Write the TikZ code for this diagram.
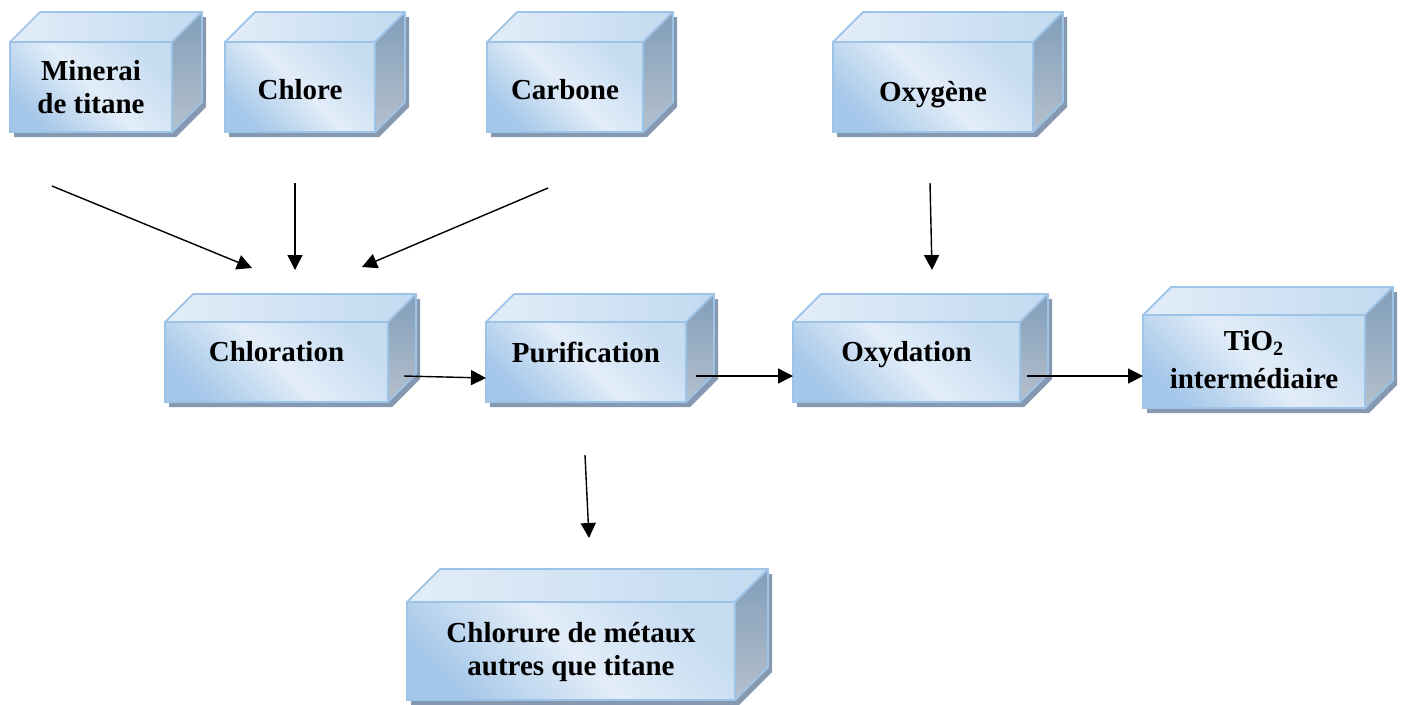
\documentclass[tikz,border=0pt]{standalone}
\usepackage{fontspec}
\setmainfont{Liberation Serif}
\usetikzlibrary{arrows.meta}

\definecolor{bordure}{HTML}{9DC3E6}
\definecolor{faceA}{HTML}{C6DCF1}
\definecolor{faceB}{HTML}{E2EDF8}
\definecolor{faceC}{HTML}{A5C7E9}
\definecolor{cote1}{HTML}{819EBB}
\definecolor{cote2}{HTML}{B5C0CC}
\definecolor{ombrec}{HTML}{8699B0}

\tikzset{
  face/.style={draw=bordure, line width=1pt, top color=faceA, bottom color=faceC,
    middle color=faceB, shading angle=-45, inner sep=0pt, outer sep=0pt},
  texte/.style={align=center, inner sep=0pt, font=\fontsize{16.5}{18.5}\selectfont\bfseries,
    execute at begin node=\strut, execute at end node=\strut},
  dessus/.style={draw=bordure, line width=1pt, line join=round, left color=faceB, right color=faceA!90!bordure},
  cote/.style={draw=bordure, line width=1pt, line join=round, top color=cote1, bottom color=cote2},
  ombre/.style={fill=ombrec},
  fleche/.style={-{Triangle[length=0.3cm,width=0.3cm]}, line width=0.8pt}
}

\begin{document}
\begin{tikzpicture}[x=0.02cm, y=-0.02cm]
	\def\px{0.02cm}
	\useasboundingbox (0,0) rectangle (1405,704);
	% blocs
	\foreach \nom/\x/\y/\w/\h/\dep/\ty/\txt in {
		minerai/10/42/162/90/30/5/{Minerai\\de titane},
		chlore/225/42/150/90/30/6/{Chlore},
		carbone/487/42/156/90/30/6/{Carbone},
		oxygene/833/42/200/90/30/8/{Oxygène},
		chloration/165/322/223/80/28/-7/{Chloration},
		purification/486/322/200/80/28/-6/{Purification},
		oxydation/793/322/227/80/28/-7/{Oxydation},
		tio/1143/315/222/93/28/3/{TiO\textsubscript{2}\\[3pt]intermédiaire},
		chlorure/407/602/328/98/33/3/{Chlorure de métaux\\autres que titane}} {
		\fill[ombre, shift={(4,5)}] (\x,\y) -- (\x+\dep,\y-\dep) -- (\x+\w+\dep,\y-\dep)
			-- (\x+\w+\dep,\y+\h-\dep) -- (\x+\w,\y+\h) -- (\x,\y+\h) -- cycle;
		\node[face, anchor=north west, minimum width=\w*\px, minimum height=\h*\px] (\nom) at (\x,\y) {};
		\draw[dessus] (\nom.north west) -- ++(\dep,-\dep) -- ++(\w,0) -- (\nom.north east) -- cycle;
		\draw[cote] (\nom.north east) -- ++(\dep,-\dep) -- ++(0,\h) -- (\nom.south east) -- cycle;
		\node[texte] (\nom-t) at ([shift={(0,\ty)}]\nom.center) {\txt};
	}
	% fleches
	\coordinate (m1) at (52,186);
	\coordinate (m2) at (252,268);
	\coordinate (c1) at (295,183);
	\coordinate (c2) at (295,270);
	\coordinate (k1) at (548,188);
	\coordinate (k2) at (362,267);
	\coordinate (o1) at (930,183);
	\coordinate (o2) at (932,270);
	\coordinate (s1) at (404,376);
	\coordinate (s2) at (486,378);
	\coordinate (s3) at (696,376);
	\coordinate (s4) at (793,376);
	\coordinate (s5) at (1027,376);
	\coordinate (s6) at (1143,376);
	\coordinate (p1) at (585,455);
	\coordinate (p2) at (589,538);
	\draw[fleche] (m1) -- (m2);
	\draw[fleche] (c1) -- (c2);
	\draw[fleche] (k1) -- (k2);
	\draw[fleche] (o1) -- (o2);
	\draw[fleche] (s1) -- (s2);
	\draw[fleche] (s3) -- (s4);
	\draw[fleche] (s5) -- (s6);
	\draw[fleche] (p1) -- (p2);
\end{tikzpicture}
\end{document}
